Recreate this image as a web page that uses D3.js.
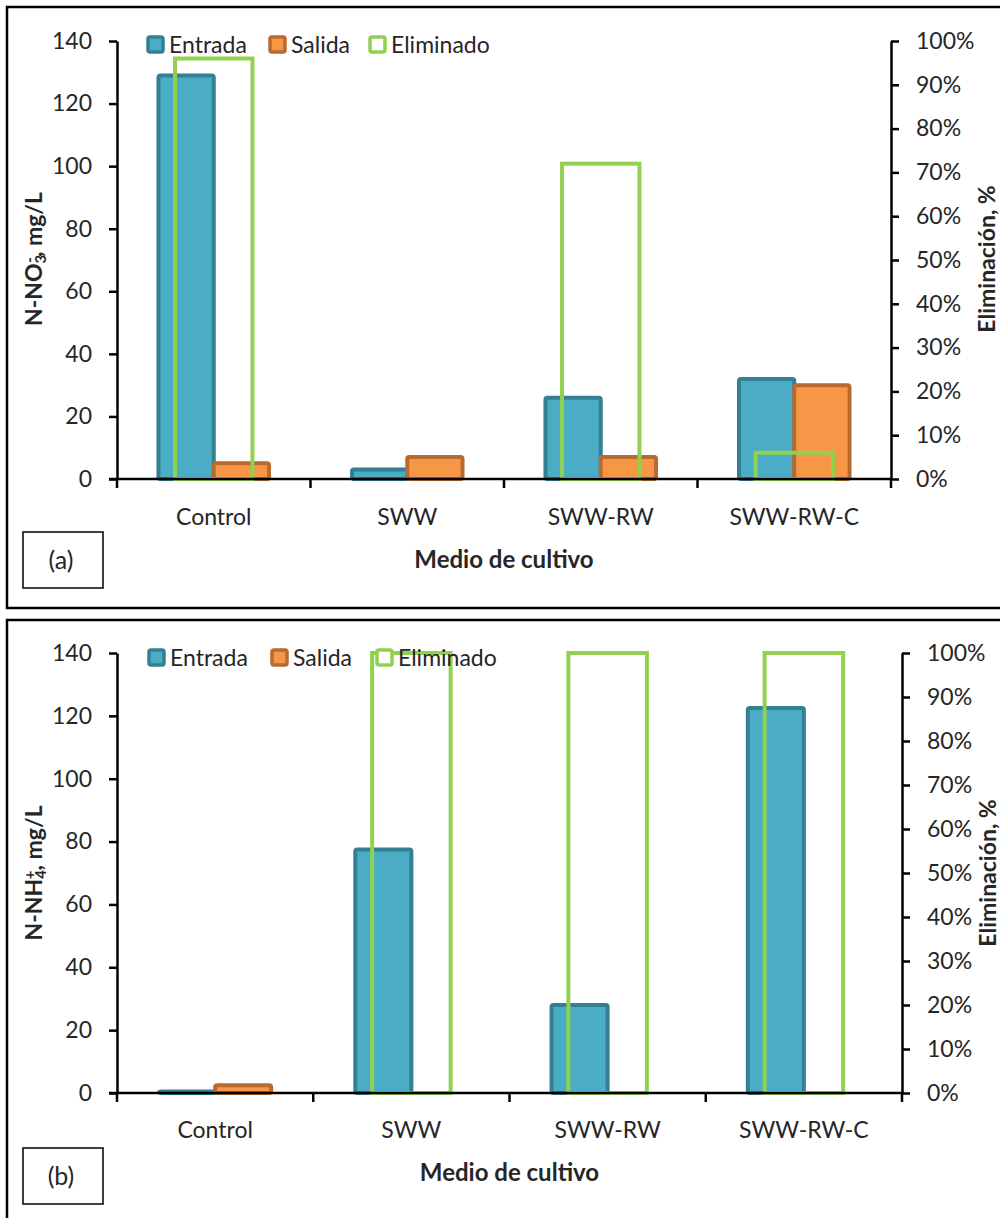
<!DOCTYPE html>
<html>
<head>
<meta charset="utf-8">
<script src="https://cdn.jsdelivr.net/npm/d3@7"></script>
<style>
  html, body { margin: 0; padding: 0; background: #fff; }
  svg { display: block; }
  text { font-family: Lato, "Open Sans", sans-serif; fill: #262626; }
</style>
</head>
<body>
<svg id="chart" width="1000" height="1218"></svg>
<script>
// ---------- DATA ----------
const categories = ["Control", "SWW", "SWW-RW", "SWW-RW-C"];
const seriesNames = ["Entrada", "Salida", "Eliminado"];

// Panel (a): N-NO3-
const entradaNO3 = [129, 3, 26, 32];
const salidaNO3 = [5, 7, 7, 30];
const eliminadoNO3 = [96, 0, 72, 6];

// Panel (b): N-NH4+
const entradaNH4 = [0.5, 77.5, 28, 122.5];
const salidaNH4 = [2.5, 0, 0, 0];
const eliminadoNH4 = [0, 100, 100, 100];

const leftTicks = [0, 20, 40, 60, 80, 100, 120, 140];
const rightTicks = [0, 10, 20, 30, 40, 50, 60, 70, 80, 90, 100];

// ---------- STYLE ----------
const colEntrada = { fill: "#4BACC6", stroke: "#357F94" };
const colSalida = { fill: "#F79646", stroke: "#B86B2F" };
const colElim = "#92D050";

const svg = d3.select("#chart");

function drawPanel(cfg) {
  const g = svg.append("g");

  g.append("rect")
    .attr("x", cfg.box.x).attr("y", cfg.box.y)
    .attr("width", cfg.box.w).attr("height", cfg.box.h)
    .attr("fill", "none").attr("stroke", "#000").attr("stroke-width", 2.5);

  const x = d3.scaleBand().domain(categories).range([cfg.left, cfg.right]).padding(0);
  const bw = x.bandwidth();
  const primaryW = bw / 3.5;
  const secondaryW = bw / 2.5;
  const y = d3.scaleLinear().domain([0, 140]).range([cfg.bottom, cfg.top]);
  const y2 = d3.scaleLinear().domain([0, 100]).range([cfg.bottom, cfg.top]);

  const cx = c => x(c) + bw / 2;

  function bars(values, offset, col) {
    g.append("g").selectAll("rect")
      .data(categories.map((c, i) => ({ c, v: values[i] })).filter(d => d.v > 0))
      .join("rect")
      .attr("x", d => cx(d.c) + offset)
      .attr("y", d => y(d.v))
      .attr("width", primaryW)
      .attr("height", d => y(0) - y(d.v))
      .attr("rx", 2)
      .attr("fill", col.fill)
      .attr("stroke", col.stroke)
      .attr("stroke-width", 4);
  }
  bars(cfg.entrada, -primaryW, colEntrada);
  bars(cfg.salida, 0, colSalida);

  g.append("g").selectAll("rect")
    .data(categories.map((c, i) => ({ c, v: cfg.elim[i] })))
    .join("rect")
    .attr("x", d => cx(d.c) - secondaryW / 2)
    .attr("y", d => y2(d.v))
    .attr("width", secondaryW)
    .attr("height", d => y2(0) - y2(d.v))
    .attr("fill", "none")
    .attr("stroke", colElim)
    .attr("stroke-width", 4);

  const axisStyle = sel => {
    sel.selectAll("path, line").attr("stroke", "#000").attr("stroke-width", 2.5);
    sel.selectAll("path").attr("fill", "none");
    sel.selectAll("text").style("font-size", "23px").attr("fill", "#262626");
  };

  const yAxis = g.append("g").attr("transform", `translate(${cfg.left},0)`)
    .call(d3.axisLeft(y).tickValues(leftTicks).tickSize(8).tickSizeOuter(0).tickPadding(17));
  axisStyle(yAxis);

  const yAxis2 = g.append("g").attr("transform", `translate(${cfg.right},0)`)
    .call(d3.axisRight(y2).tickValues(rightTicks).tickSize(8).tickSizeOuter(0).tickPadding(17)
      .tickFormat(d => d + "%"));
  axisStyle(yAxis2);

  const xAxis = g.append("g").attr("transform", `translate(0,${cfg.bottom})`);
  xAxis.append("line")
    .attr("x1", cfg.left - 8).attr("x2", cfg.right)
    .attr("stroke", "#000").attr("stroke-width", 2.5);
  const bounds = categories.map(c => x(c)).concat([cfg.right]);
  xAxis.selectAll("line.tk").data(bounds).join("line").attr("class", "tk")
    .attr("x1", d => d).attr("x2", d => d).attr("y1", 0).attr("y2", 9)
    .attr("stroke", "#000").attr("stroke-width", 2.5);
  xAxis.selectAll("text").data(categories).join("text")
    .attr("x", d => cx(d)).attr("y", cfg.xLabelY - cfg.bottom)
    .attr("text-anchor", "middle").style("font-size", "23px")
    .text(d => d);

  g.append("text")
    .attr("x", (cfg.left + cfg.right) / 2 + cfg.xTitleDx).attr("y", cfg.xTitleY)
    .attr("text-anchor", "middle").style("font-size", "24px").style("font-weight", "bold")
    .attr("fill", "#111")
    .text("Medio de cultivo");

  const yt = g.append("text")
    .attr("transform", `translate(${cfg.yTitleX},${cfg.yTitleCY}) rotate(-90)`)
    .attr("text-anchor", "middle").style("font-size", "23px").style("font-weight", "bold")
    .attr("fill", "#111");
  yt.append("tspan").text(cfg.ion);
  yt.append("tspan").attr("baseline-shift", "-25%").style("font-size", "15px").text(cfg.sub);
  yt.append("tspan").attr("dx", cfg.supDx).attr("baseline-shift", "50%").style("font-size", "15px").text(cfg.sup);
  yt.append("tspan").text(", mg/L");

  g.append("text")
    .attr("transform", `translate(${cfg.y2TitleX},${cfg.yTitleCY}) rotate(-90)`)
    .attr("text-anchor", "middle").style("font-size", "23px").style("font-weight", "bold")
    .attr("fill", "#111")
    .text("Eliminación, %");

  g.append("rect")
    .attr("x", cfg.lab.x).attr("y", cfg.lab.y).attr("width", 80).attr("height", 56)
    .attr("fill", "#fff").attr("stroke", "#000").attr("stroke-width", 1.5);
  g.append("text")
    .attr("x", cfg.lab.x + 38).attr("y", cfg.lab.y + 37)
    .attr("text-anchor", "middle").style("font-size", "25px").attr("fill", "#111")
    .text(cfg.label);

  const lg = g.append("g");
  const legendStyles = [
    { fill: colEntrada.fill, stroke: colEntrada.stroke },
    { fill: colSalida.fill, stroke: colSalida.stroke },
    { fill: "#fff", stroke: colElim }
  ];
  seriesNames.forEach((name, i) => {
    const lx = cfg.legendX[i];
    lg.append("rect")
      .attr("x", lx + 2).attr("y", cfg.legendY - 8).attr("width", 15).attr("height", 15)
      .attr("rx", 2)
      .attr("fill", legendStyles[i].fill).attr("stroke", legendStyles[i].stroke)
      .attr("stroke-width", 3.5);
    lg.append("text")
      .attr("x", lx + 23).attr("y", cfg.legendY).attr("dy", "0.35em")
      .style("font-size", "23px").attr("fill", "#262626")
      .text(name);
  });
}

drawPanel({
  box: { x: 7, y: 7, w: 1000, h: 601 },
  left: 117, right: 891, top: 41, bottom: 479,
  entrada: entradaNO3, salida: salidaNO3, elim: eliminadoNO3,
  xLabelY: 525, xTitleY: 568, xTitleDx: 0,
  ion: "N-NO", sub: "3", sup: "-", supDx: -8,
  yTitleX: 42, yTitleCY: 259, y2TitleX: 995,
  lab: { x: 23, y: 532 }, label: "(a)",
  legendX: [146, 268, 368], legendY: 45
});

drawPanel({
  box: { x: 7, y: 620, w: 1000, h: 620 },
  left: 117, right: 902, top: 653, bottom: 1093,
  entrada: entradaNH4, salida: salidaNH4, elim: eliminadoNH4,
  xLabelY: 1138, xTitleY: 1181, xTitleDx: 0,
  ion: "N-NH", sub: "4", sup: "+", supDx: -9,
  yTitleX: 42, yTitleCY: 873, y2TitleX: 996,
  lab: { x: 23, y: 1148 }, label: "(b)",
  legendX: [147, 270, 375], legendY: 658
});
</script>
</body>
</html>
